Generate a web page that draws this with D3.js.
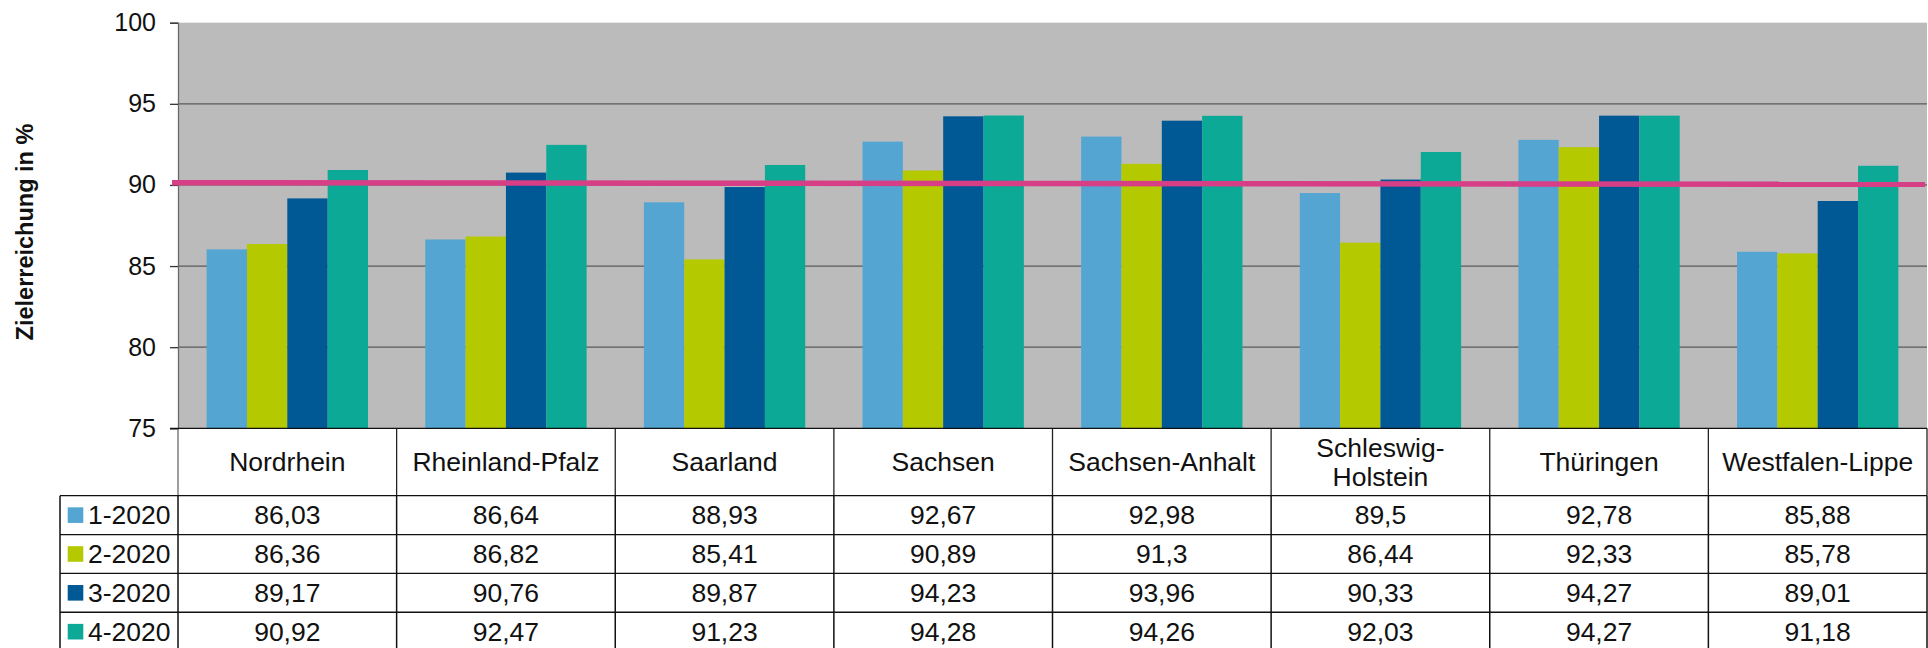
<!DOCTYPE html>
<html>
<head>
<meta charset="utf-8">
<script src="https://cdn.jsdelivr.net/npm/d3@7"></script>
<style>
  html, body { margin: 0; padding: 0; background: #ffffff; }
  svg { display: block; font-family: "Liberation Sans", Arial, sans-serif; }
</style>
</head>
<body>
<svg id="chart" width="1928" height="648"></svg>
<script>
// Regions (Kassenärztliche Vereinigungen) and quarterly target attainment in %
const categories = ["Nordrhein", "Rheinland-Pfalz", "Saarland", "Sachsen", "Sachsen-Anhalt", "Schleswig-Holstein", "Thüringen", "Westfalen-Lippe"];
const headerLabels = [["Nordrhein"], ["Rheinland-Pfalz"], ["Saarland"], ["Sachsen"], ["Sachsen-Anhalt"], ["Schleswig-", "Holstein"], ["Thüringen"], ["Westfalen-Lippe"]];
const seriesNames = ["1-2020", "2-2020", "3-2020", "4-2020"];
const q1 = [86.03, 86.64, 88.93, 92.67, 92.98, 89.5, 92.78, 85.88];
const q2 = [86.36, 86.82, 85.41, 90.89, 91.3, 86.44, 92.33, 85.78];
const q3 = [89.17, 90.76, 89.87, 94.23, 93.96, 90.33, 94.27, 89.01];
const q4 = [90.92, 92.47, 91.23, 94.28, 94.26, 92.03, 94.27, 91.18];
const seriesValues = [q1, q2, q3, q4];
const seriesColors = ["#55a5d3", "#b5c900", "#005895", "#0ba996"];
const yTicks = [75, 80, 85, 90, 95, 100];
const gridTicks = [80, 85, 90, 95];
// Target line (90 % goal), value at its left and right end
const targetLine = [90.14, 90.04];
const axisTitle = "Zielerreichung in %";

const svg = d3.select("#chart");

const plotLeft = 178, plotRight = 1927, plotTop = 22.7, plotBottom = 428.3;
const tableLeft = 60;
const headerBottom = 495.7, rowH = 38.85;
const tableFont = 26.5;

const y = d3.scaleLinear().domain([75, 100]).range([plotBottom, plotTop]);
const x0 = d3.scaleBand().domain(categories).range([plotLeft, plotRight]);
const x1 = d3.scaleBand().domain(seriesNames).range([0, x0.bandwidth()]).paddingInner(0).paddingOuter(0.71);

// plot background
svg.append("rect")
  .attr("x", plotLeft).attr("y", plotTop)
  .attr("width", plotRight - plotLeft).attr("height", plotBottom - plotTop)
  .attr("fill", "#bbbbbb");

// gridlines
svg.append("g").selectAll("line").data(gridTicks).join("line")
  .attr("x1", plotLeft).attr("x2", plotRight)
  .attr("y1", d => y(d)).attr("y2", d => y(d))
  .attr("stroke", "#5a5a5a").attr("stroke-width", 1.3);

// bars
const groups = svg.append("g").selectAll("g").data(categories).join("g")
  .attr("transform", d => `translate(${x0(d)},0)`);
groups.selectAll("rect")
  .data((c, i) => seriesNames.map((s, k) => ({ s, v: seriesValues[k][i], color: seriesColors[k] })))
  .join("rect")
  .attr("x", d => x1(d.s))
  .attr("width", x1.bandwidth())
  .attr("y", d => y(d.v))
  .attr("height", d => y(75) - y(d.v))
  .attr("fill", d => d.color);

// y axis
const yAxis = d3.axisLeft(y).tickValues(yTicks).tickSize(8).tickPadding(14).tickFormat(d3.format("d"));
const yg = svg.append("g").attr("transform", `translate(${plotLeft},0)`).call(yAxis);
yg.select(".domain").attr("stroke", "#6a6a6a").attr("stroke-width", 1.3);
yg.selectAll(".tick line").attr("stroke", "#333").attr("stroke-width", 1.3);
yg.selectAll(".tick text").attr("font-size", 25).attr("fill", "#111")
  .attr("font-family", "'Liberation Sans', Arial, sans-serif");

// target line
svg.append("line")
  .attr("x1", 172).attr("x2", 1925)
  .attr("y1", y(targetLine[0])).attr("y2", y(targetLine[1]))
  .attr("stroke", "#d63f86").attr("stroke-width", 5.5);

// axis title
svg.append("text")
  .attr("transform", `translate(33,232) rotate(-90)`)
  .attr("text-anchor", "middle")
  .attr("font-size", 23.5).attr("font-weight", "bold").attr("fill", "#111")
  .text(axisTitle);

// data table below the plot
const table = svg.append("g");
const rowTop = i => headerBottom + i * rowH;
const tableBottom = rowTop(seriesNames.length);

// header cell borders
table.selectAll("line.hdr").data(d3.range(categories.length + 1)).join("line")
  .attr("class", "hdr")
  .attr("x1", i => plotLeft + i * x0.step()).attr("x2", i => plotLeft + i * x0.step())
  .attr("y1", plotBottom).attr("y2", headerBottom)
  .attr("stroke", i => i === 0 ? "#6a6a6a" : "#222").attr("stroke-width", 1.3);

// row borders
table.selectAll("line.row").data(d3.range(seriesNames.length + 1)).join("line")
  .attr("class", "row")
  .attr("x1", tableLeft).attr("x2", plotRight)
  .attr("y1", i => rowTop(i)).attr("y2", i => rowTop(i))
  .attr("stroke", "#111").attr("stroke-width", 1.3);

// column borders in the value rows
table.selectAll("line.col").data([tableLeft].concat(d3.range(categories.length + 1).map(i => plotLeft + i * x0.step()))).join("line")
  .attr("class", "col")
  .attr("x1", d => Math.min(d, plotRight)).attr("x2", d => Math.min(d, plotRight))
  .attr("y1", headerBottom).attr("y2", tableBottom)
  .attr("stroke", "#111").attr("stroke-width", 1.5);

// x axis line
svg.append("line")
  .attr("x1", 170).attr("x2", plotRight)
  .attr("y1", plotBottom).attr("y2", plotBottom)
  .attr("stroke", "#111").attr("stroke-width", 1.3);

// header labels
const hdr = table.selectAll("text.cat").data(categories).join("text")
  .attr("class", "cat")
  .attr("text-anchor", "middle")
  .attr("font-size", tableFont).attr("fill", "#111");
hdr.each(function (c, i) {
  const lines = headerLabels[i];
  const cx = x0(c) + x0.bandwidth() / 2;
  const cy = (plotBottom + headerBottom) / 2;
  const lh = 28.5;
  d3.select(this).selectAll("tspan").data(lines).join("tspan")
    .attr("x", cx)
    .attr("y", (d, k) => cy + (k - (lines.length - 1) / 2) * lh)
    .attr("dy", "0.35em")
    .text(d => d);
});

// legend keys and series names
seriesNames.forEach((s, k) => {
  const cy = rowTop(k) + rowH / 2;
  table.append("rect")
    .attr("x", 67.7).attr("y", cy - 7.8).attr("width", 15.6).attr("height", 15.6)
    .attr("fill", seriesColors[k]);
  table.append("text")
    .attr("x", 88).attr("y", cy).attr("dy", "0.35em")
    .attr("font-size", tableFont).attr("fill", "#111")
    .text(s);
  table.append("g").selectAll("text").data(categories).join("text")
    .attr("x", c => x0(c) + x0.bandwidth() / 2)
    .attr("y", cy).attr("dy", "0.35em")
    .attr("text-anchor", "middle")
    .attr("font-size", tableFont).attr("fill", "#111")
    .text((c, i) => String(seriesValues[k][i]).replace(".", ","));
});
</script>
</body>
</html>
